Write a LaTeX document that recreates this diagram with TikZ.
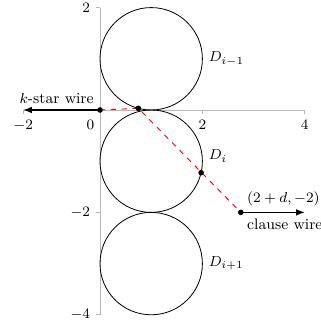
\documentclass[tikz,border=0pt]{standalone}
\usetikzlibrary{arrows.meta}
\begin{document}
\begin{tikzpicture}[
  every node/.style={font=\fontsize{8.5}{10}\selectfont},
  axisline/.style={black!28, line width=0.45pt},
  disc/.style={draw=black, line width=0.45pt},
  dot/.style={circle, fill=black, inner sep=0pt, minimum size=1.1mm},
  wire/.style={-{Latex[length=1.7mm,width=1.3mm]}, line width=0.65pt},
  redpath/.style={red, dashed, line width=0.5pt},
  ticklbl/.style={inner sep=3pt}
]
\useasboundingbox (-1.953,-4.18) rectangle (4.316,2.148);

% axes
\coordinate (xl) at (-1.5,0);
\coordinate (xr) at (4,0);
\coordinate (yt) at (0,2);
\coordinate (yb) at (0,-4);
\draw[axisline] (xl) -- (xr);
\draw[axisline] (yt) -- (yb);

% x ticks
\foreach \x/\t/\n in {-1.5/{$-2$}/xm2, 2/{$2$}/xp2, 4/{$4$}/xp4}{
  \draw[axisline] (\x,0) -- (\x,-0.08) coordinate (tk\n);
  \node[below, ticklbl] (lab\n) at (tk\n) {\t};
}
\node[below left, ticklbl] (lab0) at (0,-0.08) {$0$};

% y ticks
\foreach \y/\t/\n in {2/{$2$}/yp2, -2/{$-2$}/ym2, -4/{$-4$}/ym4}{
  \draw[axisline] (0,\y) -- (-0.08,\y) coordinate (tk\n);
  \node[left, ticklbl] (lab\n) at (tk\n) {\t};
}

% discs
\draw[disc] (1,1) circle[radius=1];
\draw[disc] (1,-1) circle[radius=1];
\draw[disc] (1,-3) circle[radius=1];
\node[right] (Dim1) at (2,1) {$D_{i-1}$};
\node[right] (Di) at (2,-0.9) {$D_{i}$};
\node[right] (Dip1) at (2,-3) {$D_{i+1}$};

% points
\coordinate (p0) at (0,0);
\coordinate (p1) at (0.75,0.031754);
\coordinate (p2) at (1.97448,-1.22448);
\coordinate (p3) at (2.75,-2);
\coordinate (kend) at (-1.5,0);
\coordinate (cend) at (4,-2);

% red dashed path
\draw[redpath] (p0) -- (p1) -- (p3);

% wires
\draw[wire] (p0) -- (kend);
\draw[wire] (p3) -- (cend);

% dots
\node[dot] (d0) at (p0) {};
\node[dot] (d1) at (p1) {};
\node[dot] (d2) at (p2) {};
\node[dot] (d3) at (p3) {};

% labels
\node[above left] (kstar) at (p0) {$k$-star wire};
\node[above right] (coord) at (p3) {$(2+d,-2)$};
\node[below right] (clause) at (p3) {clause wire};
\end{tikzpicture}
\end{document}
